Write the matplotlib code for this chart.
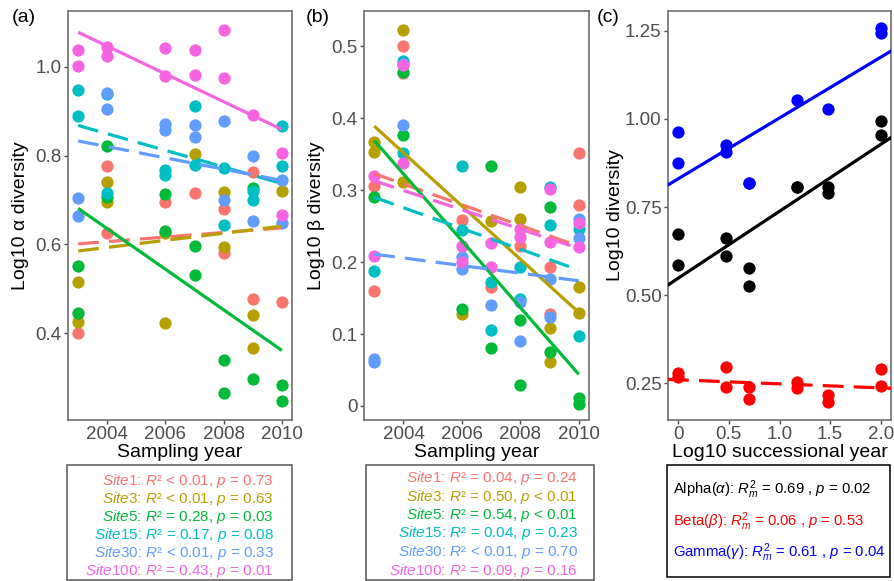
import numpy as np
import matplotlib
matplotlib.use("Agg")
import matplotlib.pyplot as plt
from matplotlib.patches import Rectangle

plt.rcParams["font.family"] = ["Liberation Sans", "DejaVu Sans"]
plt.rcParams["mathtext.fontset"] = "custom"
plt.rcParams["mathtext.rm"] = "Liberation Sans"
plt.rcParams["mathtext.it"] = "Liberation Sans:italic"
plt.rcParams["mathtext.bf"] = "Liberation Sans:bold"

# ---------- data ----------
sites = ["Site1", "Site3", "Site5", "Site15", "Site30", "Site100"]
site_colors = ["#F8766D", "#B79F00", "#00BA38", "#00BFC4", "#619CFF", "#F564E3"]

# (a) alpha diversity per site
alpha_years = [
    [2003, 2004, 2004, 2006, 2007, 2008, 2008, 2009, 2009, 2010],
    [2003, 2003, 2004, 2004, 2006, 2006, 2007, 2008, 2008, 2009, 2009, 2010],
    [2003, 2003, 2004, 2004, 2006, 2006, 2007, 2007, 2008, 2008, 2009, 2009, 2010, 2010],
    [2003, 2003, 2004, 2004, 2006, 2006, 2007, 2007, 2008, 2008, 2009, 2009, 2010, 2010],
    [2003, 2003, 2004, 2004, 2006, 2006, 2007, 2007, 2008, 2008, 2009, 2009, 2010, 2010],
    [2003, 2003, 2004, 2004, 2006, 2006, 2007, 2007, 2008, 2008, 2009, 2010, 2010],
]
alpha_vals = [
    [0.399, 0.776, 0.626, 0.695, 0.715, 0.680, 0.581, 0.764, 0.477, 0.469],
    [0.515, 0.426, 0.741, 0.695, 0.626, 0.422, 0.804, 0.719, 0.593, 0.441, 0.366, 0.720],
    [0.552, 0.446, 0.822, 0.707, 0.713, 0.630, 0.596, 0.530, 0.340, 0.265, 0.726, 0.297, 0.282, 0.246],
    [0.948, 0.890, 0.939, 0.715, 0.767, 0.756, 0.911, 0.779, 0.772, 0.644, 0.720, 0.700, 0.867, 0.776],
    [0.705, 0.663, 0.942, 0.905, 0.872, 0.857, 0.870, 0.841, 0.878, 0.701, 0.800, 0.653, 0.744, 0.648],
    [1.039, 1.002, 1.044, 1.024, 1.042, 0.979, 1.037, 0.981, 1.083, 0.974, 0.891, 0.805, 0.667],
]
alpha_fit_2003 = [0.601, 0.585, 0.681, 0.868, 0.833, 1.078]
alpha_fit_2010 = [0.637, 0.641, 0.361, 0.737, 0.744, 0.859]
alpha_r2 = ["< 0.01", "< 0.01", "= 0.28", "= 0.17", "< 0.01", "= 0.43"]
alpha_p = ["= 0.73", "= 0.63", "= 0.03", "= 0.08", "= 0.33", "= 0.01"]
alpha_sig = [False, False, True, False, False, True]

# (b) beta diversity per site
beta_years = [
    [2003, 2003, 2004, 2004, 2006, 2007, 2008, 2009, 2009, 2010, 2010],
    [2003, 2003, 2004, 2004, 2006, 2007, 2008, 2008, 2009, 2009, 2010, 2010],
    [2003, 2004, 2004, 2006, 2007, 2007, 2008, 2008, 2009, 2009, 2010, 2010],
    [2003, 2004, 2004, 2006, 2006, 2007, 2007, 2008, 2008, 2009, 2009, 2010, 2010],
    [2003, 2003, 2004, 2004, 2006, 2006, 2007, 2008, 2008, 2009, 2009, 2010, 2010],
    [2003, 2003, 2004, 2004, 2006, 2006, 2007, 2007, 2008, 2008, 2009, 2009, 2010, 2010],
]
beta_vals = [
    [0.306, 0.160, 0.501, 0.463, 0.258, 0.165, 0.223, 0.193, 0.128, 0.351, 0.279],
    [0.367, 0.353, 0.523, 0.311, 0.128, 0.257, 0.304, 0.260, 0.109, 0.061, 0.165, 0.129],
    [0.291, 0.376, 0.464, 0.135, 0.333, 0.080, 0.120, 0.029, 0.276, 0.075, 0.011, 0.003],
    [0.188, 0.479, 0.351, 0.334, 0.244, 0.172, 0.106, 0.193, 0.149, 0.304, 0.252, 0.246, 0.097],
    [0.065, 0.061, 0.390, 0.476, 0.207, 0.190, 0.140, 0.144, 0.091, 0.177, 0.123, 0.260, 0.234],
    [0.319, 0.209, 0.474, 0.338, 0.223, 0.200, 0.226, 0.193, 0.246, 0.235, 0.302, 0.228, 0.255, 0.221],
]
beta_fit_2003 = [0.323, 0.389, 0.369, 0.290, 0.211, 0.313]
beta_fit_2010 = [0.222, 0.130, 0.044, 0.189, 0.174, 0.219]
beta_r2 = ["= 0.04", "= 0.50", "= 0.54", "= 0.04", "< 0.01", "= 0.09"]
beta_p = ["= 0.24", "< 0.01", "< 0.01", "= 0.23", "= 0.70", "= 0.16"]
beta_sig = [False, True, True, False, False, False]

# (c) diversity vs log10 successional year
succ_years = [1, 3, 5, 15, 30, 100]
c_alpha = [[0.673, 0.586], [0.662, 0.610], [0.577, 0.526], [0.808, 0.806], [0.808, 0.791], [0.994, 0.955]]
c_beta = [[0.278, 0.269], [0.295, 0.239], [0.239, 0.205], [0.255, 0.236], [0.217, 0.198], [0.290, 0.242]]
c_gamma = [[0.964, 0.876], [0.926, 0.907], [0.819, 0.817], [1.054], [1.027], [1.257, 1.243]]
c_intercept = [0.548, 0.260, 0.830]
c_slope = [0.190, -0.0115, 0.1726]
c_names = ["Alpha", "Beta", "Gamma"]
c_greek = [r"\alpha", r"\beta", r"\gamma"]
c_r2 = ["0.69", "0.06", "0.61"]
c_p = ["0.02", "0.53", "0.04"]
c_sig = [True, False, True]
c_colors = ["black", "#FF0000", "#0000FF"]

# ---------- figure ----------
W, H = 894, 581
fig = plt.figure(figsize=(W / 100, H / 100), dpi=100)

def px_axes(x0, x1, y0, y1):
    return fig.add_axes([x0 / W, 1 - y1 / H, (x1 - x0) / W, (y1 - y0) / H])

def style(ax):
    for s in ax.spines.values():
        s.set_color("#6E6E6E")
        s.set_linewidth(1.2)
    ax.tick_params(labelsize=13.5, labelcolor="#4D4D4D", color="#4D4D4D",
                   length=3, width=1, pad=1.5)
    ax.xaxis.label.set_va("center")
    ax.xaxis.set_label_coords(0.5, -0.08)

dash = (0, (6.5, 3.2))

def site_panel(ax, years, vals, f0, f1, sig):
    for i in range(len(sites)):
        ax.scatter(years[i], vals[i], s=78, color=site_colors[i], lw=0, zorder=2)
    for i in range(len(sites)):
        ax.plot([2003, 2010], [f0[i], f1[i]], color=site_colors[i], lw=2.3,
                ls="-" if sig[i] else dash, solid_capstyle="butt", zorder=3)
    ax.set_xlim(2002.65, 2010.35)
    ax.set_xticks([2004, 2006, 2008, 2010])
    ax.set_xlabel("Sampling year", fontsize=14)
    style(ax)

def legend_box(x0, x1, y0, y1, color):
    fig.add_artist(Rectangle((x0 / W, 1 - y1 / H), (x1 - x0) / W, (y1 - y0) / H,
                             transform=fig.transFigure, fill=False,
                             edgecolor=color, lw=1.1))

# (a)
ax1 = px_axes(68, 292, 11, 420)
site_panel(ax1, alpha_years, alpha_vals, alpha_fit_2003, alpha_fit_2010, alpha_sig)
ax1.set_ylim(0.204, 1.126)
ax1.set_yticks([0.4, 0.6, 0.8, 1.0])
ax1.set_yticklabels(["0.4", "0.6", "0.8", "1.0"])
ax1.set_ylabel("Log10 α diversity", fontsize=14)
ax1.yaxis.set_label_coords(-0.173, 0.5)

# (b)
ax2 = px_axes(364, 589, 11, 420)
site_panel(ax2, beta_years, beta_vals, beta_fit_2003, beta_fit_2010, beta_sig)
ax2.set_ylim(-0.0195, 0.549)
ax2.set_yticks([0, 0.1, 0.2, 0.3, 0.4, 0.5])
ax2.set_yticklabels(["0", "0.1", "0.2", "0.3", "0.4", "0.5"])
ax2.set_ylabel("Log10 β diversity", fontsize=14)
ax2.yaxis.set_label_coords(-0.175, 0.5)

# (c)
ax3 = px_axes(668, 891, 11, 420)
lx = np.log10(succ_years)
for k, grp in enumerate([c_alpha, c_beta, c_gamma]):
    for xi, ys in zip(lx, grp):
        ax3.scatter([xi] * len(ys), ys, s=78, color=c_colors[k], lw=0, zorder=2)
    ax3.axline((0, c_intercept[k]), slope=c_slope[k], color=c_colors[k], lw=2.3,
               ls="-" if c_sig[k] else dash, zorder=3)
ax3.set_xlim(-0.1, 2.1)
ax3.set_ylim(0.146, 1.306)
ax3.set_xticks([0, 0.5, 1.0, 1.5, 2.0])
ax3.set_xticklabels(["0", "0.5", "1.0", "1.5", "2.0"])
ax3.set_yticks([0.25, 0.5, 0.75, 1.0, 1.25])
ax3.set_yticklabels(["0.25", "0.50", "0.75", "1.00", "1.25"])
ax3.set_ylabel("Log10 diversity", fontsize=14)
ax3.yaxis.set_label_coords(-0.198, 0.5)
ax3.set_xlabel("Log10 successional year", fontsize=14)
style(ax3)

# panel letters
fig.text(12 / W, 1 - 17 / H, "(a)", fontsize=14, va="center")
fig.text(306 / W, 1 - 17 / H, "(b)", fontsize=14, va="center")
fig.text(597 / W, 1 - 17 / H, "(c)", fontsize=14, va="center")

# stats boxes
legend_box(67, 292, 465, 580, "#555555")
legend_box(366, 594, 465, 580, "#555555")
legend_box(667, 890, 465, 577, "black")

for i, name in enumerate(sites):
    s = rf"$\mathit{{{name}}}$: $R$² {alpha_r2[i]}, $p$ {alpha_p[i]}"
    fig.text(274 / W, 1 - (481 + 18 * i) / H, s, fontsize=11, ha="right",
             va="center", color=site_colors[i])
    s = rf"$\mathit{{{name}}}$: $R$² {beta_r2[i]}, $p$ {beta_p[i]}"
    fig.text(578 / W, 1 - (478 + 18.5 * i) / H, s, fontsize=11, ha="right",
             va="center", color=site_colors[i])

for k in range(3):
    s = rf"{c_names[k]}$({c_greek[k]})$: $R_{{m}}^{{2}}$ = {c_r2[k]} , $p$ = {c_p[k]}"
    fig.text(673 / W, 1 - (490 + 31.5 * k) / H, s, fontsize=10.7, ha="left",
             va="center", color=c_colors[k])

fig.savefig("out.png", dpi=100)
